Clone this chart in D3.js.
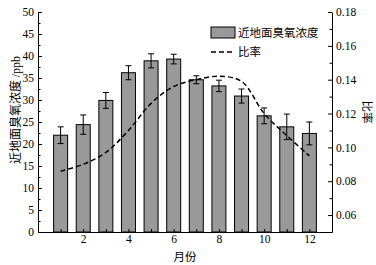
<!DOCTYPE html>
<html lang="zh">
<head>
    <meta charset="UTF-8">
    <title>近地面臭氧浓度与比率</title>
    <script src="https://d3js.org/d3.v7.min.js"></script>
    <style>
        body { margin: 0; background: #fff; }
        .axis text {
            font-family: "Liberation Serif", "DejaVu Serif", serif;
            font-size: 11.5px;
            fill: #000;
        }
        .axis path, .axis line { stroke: #000; stroke-width: 1px; }
        .cjk { font-family: "Noto Sans CJK SC", sans-serif; font-size: 11.5px; fill: #000; }
        .unit { font-family: "Liberation Serif", serif; font-size: 12px; }
    </style>
</head>
<body>
    <svg id="chart" width="376" height="265"></svg>
    <script>
        // monthly data
        const months = [1, 2, 3, 4, 5, 6, 7, 8, 9, 10, 11, 12];
        const ozone = [22.0, 24.4, 29.9, 36.2, 38.9, 39.3, 34.6, 33.2, 30.9, 26.4, 23.9, 22.4];
        const ozoneErr = [1.9, 2.2, 1.8, 1.6, 1.6, 1.1, 0.9, 1.3, 1.6, 1.8, 2.9, 2.6];
        const ratio = [0.086, 0.090, 0.097, 0.110, 0.126, 0.136, 0.140, 0.142, 0.139, 0.120, 0.107, 0.095];

        const leftTicks = [0, 5, 10, 15, 20, 25, 30, 35, 40, 45, 50];
        const rightTicks = [0.06, 0.08, 0.10, 0.12, 0.14, 0.16, 0.18];
        const xLabels = [2, 4, 6, 8, 10, 12];

        const margin = { top: 12, right: 44, bottom: 33, left: 38 };
        const width = 376, height = 265;
        const svg = d3.select("#chart");

        const x = d3.scaleLinear().domain([0, 13]).range([margin.left, width - margin.right]);
        const yL = d3.scaleLinear().domain([0, 50]).range([height - margin.bottom, margin.top]);
        const yR = d3.scaleLinear().domain([0.05, 0.18]).range([height - margin.bottom, margin.top]);

        const barW = 14;
        const rows = months.map((m, i) => ({ m, v: ozone[i], e: ozoneErr[i], r: ratio[i] }));

        // bars
        svg.append("g").selectAll("rect")
            .data(rows).enter().append("rect")
            .attr("x", d => x(d.m) - barW / 2)
            .attr("y", d => yL(d.v))
            .attr("width", barW)
            .attr("height", d => yL(0) - yL(d.v))
            .attr("fill", "#999")
            .attr("stroke", "#000")
            .attr("stroke-width", 1);

        // error bars
        const err = svg.append("g").attr("stroke", "#000").attr("stroke-width", 1);
        rows.forEach(d => {
            err.append("line").attr("x1", x(d.m)).attr("x2", x(d.m))
                .attr("y1", yL(d.v + d.e)).attr("y2", yL(d.v - d.e));
            [d.v + d.e, d.v - d.e].forEach(v => {
                err.append("line").attr("x1", x(d.m) - 3).attr("x2", x(d.m) + 3)
                    .attr("y1", yL(v)).attr("y2", yL(v));
            });
        });

        // ratio line
        const line = d3.line()
            .x(d => x(d.m))
            .y(d => yR(d.r))
            .curve(d3.curveCatmullRom.alpha(0.5));
        svg.append("path")
            .datum(rows)
            .attr("d", line)
            .attr("fill", "none")
            .attr("stroke", "#000")
            .attr("stroke-width", 1.5)
            .attr("stroke-dasharray", "5,3");

        // axes
        const bottom = height - margin.bottom;
        svg.append("g").attr("class", "axis")
            .attr("transform", `translate(0,${bottom})`)
            .call(d3.axisBottom(x).tickValues(months).tickSize(-3).tickSizeOuter(0).tickPadding(3)
                .tickFormat(d => xLabels.includes(d) ? d : ""));

        svg.append("g").attr("class", "axis")
            .attr("transform", `translate(${margin.left},0)`)
            .call(d3.axisLeft(yL).tickValues(leftTicks).tickSize(-4).tickSizeOuter(0).tickPadding(4));
        svg.append("g").attr("class", "axis")
            .attr("transform", `translate(${margin.left},0)`)
            .call(d3.axisLeft(yL).tickValues(d3.range(2.5, 50, 5)).tickSize(-2.5).tickSizeOuter(0).tickFormat(""))
            .select(".domain").remove();

        const rx = width - margin.right;
        svg.append("g").attr("class", "axis")
            .attr("transform", `translate(${rx},0)`)
            .call(d3.axisRight(yR).tickValues(rightTicks).tickSize(-4).tickSizeOuter(0).tickPadding(4)
                .tickFormat(d3.format(".2f")));
        svg.append("g").attr("class", "axis")
            .attr("transform", `translate(${rx},0)`)
            .call(d3.axisRight(yR).tickValues([0.07, 0.09, 0.11, 0.13, 0.15, 0.17]).tickSize(-2.5).tickSizeOuter(0).tickFormat(""))
            .select(".domain").remove();

        // axis titles
        const yt = svg.append("text")
            .attr("transform", "translate(20,110) rotate(-90)")
            .attr("text-anchor", "middle")
            .attr("class", "cjk")
            .style("font-size", "12px");
        yt.append("tspan").text("近地面臭氧浓度 ");
        yt.append("tspan").attr("class", "unit").text("/ppb");

        svg.append("text")
            .attr("transform", "translate(363,112) rotate(90)")
            .attr("text-anchor", "middle")
            .attr("class", "cjk")
            .text("比率");

        svg.append("text")
            .attr("x", (margin.left + rx) / 2)
            .attr("y", 261)
            .attr("text-anchor", "middle")
            .attr("class", "cjk")
            .text("月份");

        // legend
        const lg = svg.append("g").attr("transform", "translate(211,27)");
        lg.append("rect").attr("width", 24).attr("height", 11)
            .attr("fill", "#999").attr("stroke", "#000");
        lg.append("text").attr("class", "cjk").attr("x", 27).attr("y", 9.5).text("近地面臭氧浓度");
        lg.append("line").attr("x1", 0).attr("x2", 24).attr("y1", 25).attr("y2", 25)
            .attr("stroke", "#000").attr("stroke-width", 1.5).attr("stroke-dasharray", "5,3");
        lg.append("text").attr("class", "cjk").attr("x", 27).attr("y", 29).text("比率");
    </script>
</body>
</html>
